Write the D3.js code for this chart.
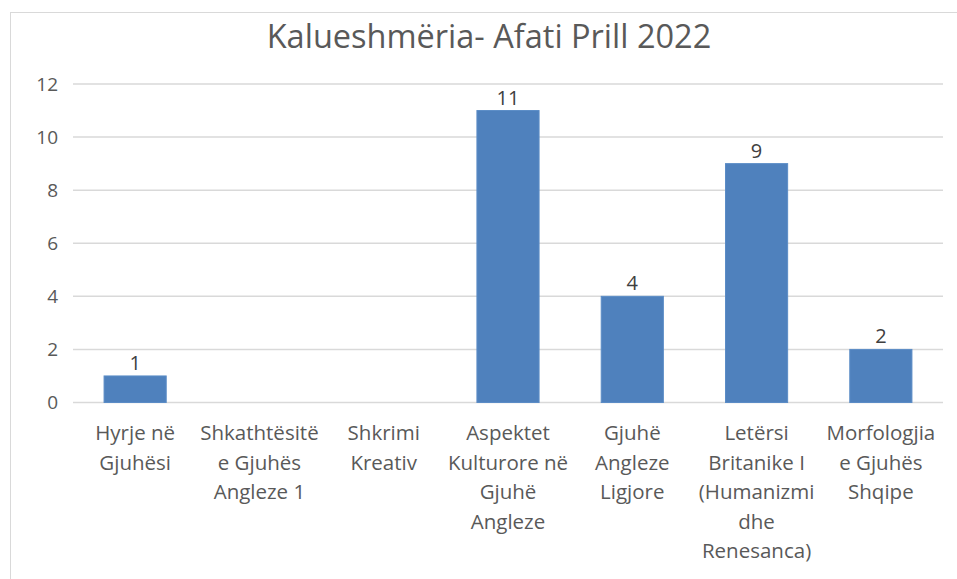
<!DOCTYPE html>
<html>
  <head>
    <meta charset="UTF-8" />
    <style>
      body { margin: 0; background: #ffffff; }
      text { font-family: "Open Sans", "Noto Sans", sans-serif; }
    </style>
  </head>
  <body>
    <svg></svg>
    <script src="https://d3js.org/d3.v7.min.js"></script>
    <script>
      // chart data
      const title = "Kalueshmëria- Afati Prill 2022";
      const categories = [
        ["Hyrje në", "Gjuhësi"],
        ["Shkathtësitë", "e Gjuhës", "Angleze 1"],
        ["Shkrimi", "Kreativ"],
        ["Aspektet", "Kulturore në", "Gjuhë", "Angleze"],
        ["Gjuhë", "Angleze", "Ligjore"],
        ["Letërsi", "Britanike I", "(Humanizmi", "dhe", "Renesanca)"],
        ["Morfologjia", "e Gjuhës", "Shqipe"]
      ];
      const values = [1, 0, 0, 11, 4, 9, 2];
      const yTicks = [0, 2, 4, 6, 8, 10, 12];

      let width = 957,
        height = 579;

      let svg = d3.select("svg").attr("width", width).attr("height", height);

      // chart frame
      svg
        .append("rect")
        .attr("x", 10.5)
        .attr("y", 12.5)
        .attr("width", 970)
        .attr("height", 600)
        .attr("fill", "#ffffff")
        .attr("stroke", "#d9d9d9")
        .attr("stroke-width", 1);

      let plotLeft = 73,
        plotRight = 943,
        plotTop = 84,
        plotBottom = 402.5;

      let x = d3
        .scaleBand()
        .domain(d3.range(categories.length))
        .range([plotLeft, plotRight])
        .paddingInner(0.5)
        .paddingOuter(0.25);

      let y = d3.scaleLinear().domain([0, 12]).range([plotBottom, plotTop]);

      // title
      svg
        .append("text")
        .attr("x", 489)
        .attr("y", 48)
        .attr("text-anchor", "middle")
        .attr("fill", "#595959")
        .style("font-size", "32.5px")
        .text(title);

      // gridlines
      svg
        .append("g")
        .selectAll("line")
        .data(yTicks)
        .join("line")
        .attr("x1", plotLeft)
        .attr("x2", plotRight)
        .attr("y1", (d) => y(d))
        .attr("y2", (d) => y(d))
        .attr("stroke", "#d9d9d9")
        .attr("stroke-width", 1.5);

      // y axis labels
      let yAxis = d3.axisLeft(y).tickValues(yTicks).tickSize(0).tickPadding(15);
      let yg = svg
        .append("g")
        .attr("transform", `translate(${plotLeft},0)`)
        .call(yAxis);
      yg.select(".domain").remove();
      yg.selectAll("text")
        .attr("fill", "#595959")
        .style("font-size", "19px")
        .style("font-family", "'Open Sans', 'Noto Sans', sans-serif");

      // bars
      svg
        .append("g")
        .selectAll("rect")
        .data(values)
        .join("rect")
        .attr("x", (d, i) => x(i))
        .attr("y", (d) => y(d))
        .attr("width", x.bandwidth())
        .attr("height", (d) => y(0) - y(d))
        .attr("fill", "#4f81bd")
        .attr("stroke", (d) => (d > 0 ? "#5b8cc6" : "none"))
        .attr("stroke-width", 1);

      // value labels (zero bars have none)
      svg
        .append("g")
        .selectAll("text")
        .data(values.map((v, i) => ({ v, i })).filter((d) => d.v > 0))
        .join("text")
        .attr("x", (d) => x(d.i) + x.bandwidth() / 2)
        .attr("y", (d) => y(d.v) - 6)
        .attr("text-anchor", "middle")
        .attr("fill", "#404040")
        .style("font-size", "20px")
        .text((d) => d.v);

      // category labels
      let cat = svg
        .append("g")
        .selectAll("text")
        .data(categories)
        .join("text")
        .attr("text-anchor", "middle")
        .attr("fill", "#595959")
        .style("font-size", "20.5px")
        .attr("transform", (d, i) => `translate(${x(i) + x.bandwidth() / 2},440)`);

      cat
        .selectAll("tspan")
        .data((d) => d)
        .join("tspan")
        .attr("x", 0)
        .attr("y", (d, i) => i * 29.5)
        .text((d) => d);
    </script>
  </body>
</html>
